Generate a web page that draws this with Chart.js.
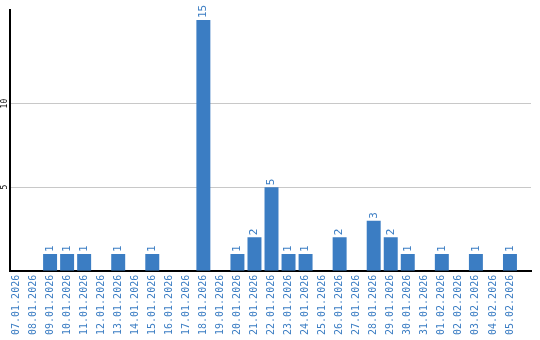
<!DOCTYPE html>
<html lang="en">
<head>
  <meta charset="UTF-8">
  <title>Daily count</title>
  <script src="https://cdn.jsdelivr.net/npm/chart.js"></script>
  <style>
    html, body { margin: 0; padding: 0; background: #fff; }
    .chart-container { width: 540px; height: 340px; }
  </style>
</head>
<body>
  <div class="chart-container">
    <canvas id="chartDays"></canvas>
  </div>

  <script>
    // dates and values
    const dates = [
      '07.01.2026', '08.01.2026', '09.01.2026', '10.01.2026', '11.01.2026',
      '12.01.2026', '13.01.2026', '14.01.2026', '15.01.2026', '16.01.2026',
      '17.01.2026', '18.01.2026', '19.01.2026', '20.01.2026', '21.01.2026',
      '22.01.2026', '23.01.2026', '24.01.2026', '25.01.2026', '26.01.2026',
      '27.01.2026', '28.01.2026', '29.01.2026', '30.01.2026', '31.01.2026',
      '01.02.2026', '02.02.2026', '03.02.2026', '04.02.2026', '05.02.2026'
    ];
    const counts = [0, 0, 1, 1, 1, 0, 1, 0, 1, 0, 0, 15, 0, 1, 2, 5, 1, 1, 0, 2, 0, 3, 2, 1, 0, 1, 0, 1, 0, 1];
    const yTicks = [5, 10];

    const blue = '#3b7dc3';
    const mono = 'DejaVu Sans Mono';

    // value labels above bars + rotated y tick labels
    const labelPlugin = {
      id: 'labels',
      afterDatasetsDraw(chart) {
        const ctx = chart.ctx;
        const meta = chart.getDatasetMeta(0);
        ctx.save();
        ctx.fillStyle = blue;
        ctx.font = '11px ' + mono;
        ctx.textAlign = 'left';
        ctx.textBaseline = 'middle';
        meta.data.forEach((bar, i) => {
          if (!counts[i]) return;
          ctx.save();
          ctx.translate(bar.x, bar.y - 2);
          ctx.rotate(-Math.PI / 2);
          ctx.fillText(String(counts[i]), 0, 0);
          ctx.restore();
        });

        const y = chart.scales.y;
        ctx.fillStyle = '#000';
        ctx.font = '8px ' + mono;
        ctx.textAlign = 'center';
        yTicks.forEach(v => {
          ctx.save();
          ctx.translate(5, y.getPixelForValue(v));
          ctx.rotate(-Math.PI / 2);
          ctx.fillText(String(v), 0, 0);
          ctx.restore();
        });
        ctx.restore();
      }
    };

    new Chart(document.getElementById('chartDays').getContext('2d'), {
      type: 'bar',
      data: {
        datasets: [{
          data: counts.map((v, i) => ({ x: i, y: v })),
          backgroundColor: blue,
          borderWidth: 0,
          barPercentage: 0.82,
          categoryPercentage: 1
        }]
      },
      options: {
        responsive: true,
        maintainAspectRatio: false,
        animation: false,
        layout: { padding: { top: 10, right: 9, left: 10, bottom: 1 } },
        plugins: { legend: { display: false }, tooltip: { enabled: false } },
        scales: {
          x: {
            type: 'linear',
            offset: false,
            min: -0.353,
            max: 30.235,
            grid: { display: false, drawTicks: false },
            border: { display: true, color: '#000', width: 2 },
            afterBuildTicks: s => { s.ticks = dates.map((_, i) => ({ value: i })); },
            ticks: {
              autoSkip: false,
              minRotation: 90,
              maxRotation: 90,
              padding: 4,
              color: blue,
              font: { family: mono, size: 10 },
              callback: v => dates[v] || ''
            }
          },
          y: {
            min: 0,
            max: 15.6,
            afterBuildTicks: s => { s.ticks = yTicks.map(v => ({ value: v })); },
            grid: { color: '#c8c8c8', drawTicks: false },
            border: { display: true, color: '#000', width: 2 },
            ticks: { display: false }
          }
        }
      },
      plugins: [labelPlugin]
    });
  </script>
</body>
</html>
